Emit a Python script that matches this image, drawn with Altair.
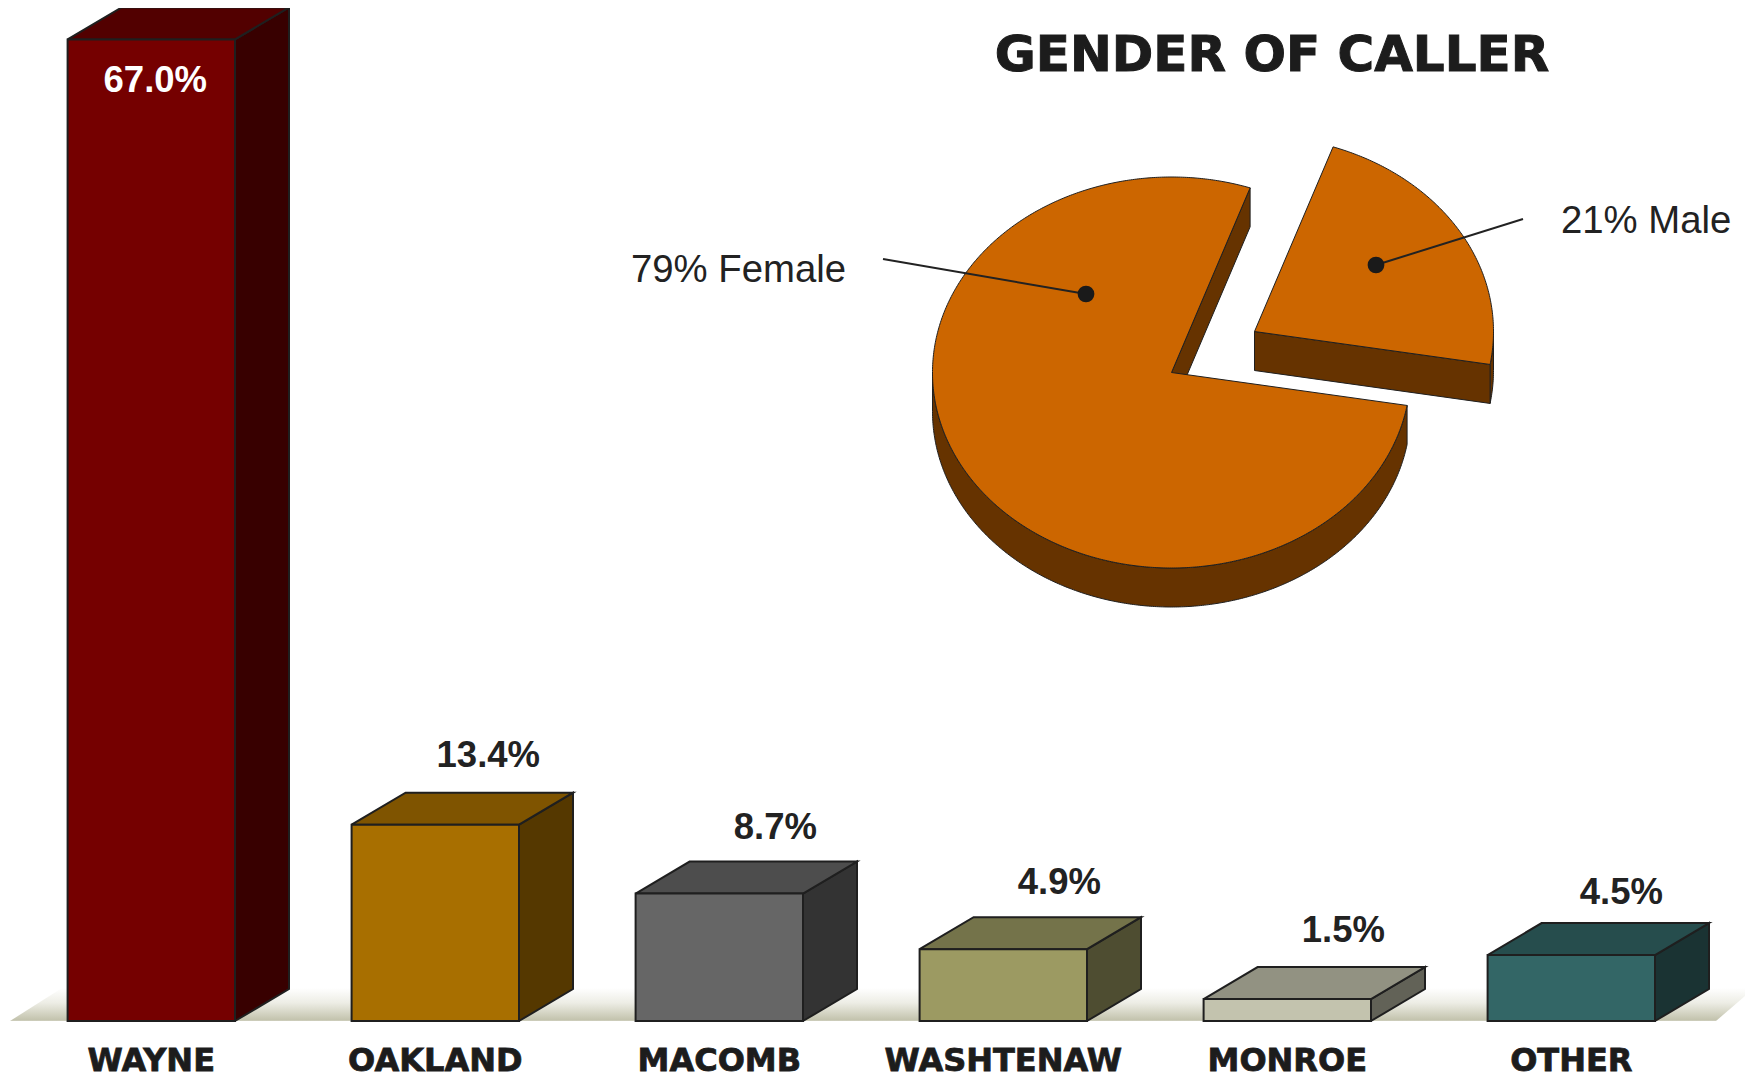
import numpy as np
import pandas as pd
import altair as alt

# ---- data ----
categories = ["WAYNE", "OAKLAND", "MACOMB", "WASHTENAW", "MONROE", "OTHER"]
values = [67.0, 13.4, 8.7, 4.9, 1.5, 4.5]
value_labels = ["67.0%", "13.4%", "8.7%", "4.9%", "1.5%", "4.5%"]
front_colors = ["#750000", "#A86F00", "#666666", "#9C9A62", "#C3C3AE", "#336666"]
top_colors = ["#520000", "#7F5400", "#4D4D4D", "#74734A", "#929282", "#264D4D"]
side_colors = ["#380000", "#553800", "#333333", "#4E4D31", "#626257", "#1A3333"]
pie_labels = ["79% Female", "21% Male"]

# ---- layout ----
W, H = 1737, 1065
PX0, PY0 = 8, 8                    # page margin
SLOT_PX, LEFT_PX, BASE_PX = 284.0, 67.6, 1021.0
PCT_PX = 14.65                     # pixels per percentage point
BAR_W = 167.4 / SLOT_PX
DEPTH_X = 54 / SLOT_PX
DEPTH_Y = 32 / PCT_PX
INK = "#1F1F1F"
LABEL_NUDGE_X = [0, -1, 2, 2, 2, -4]      # value label placement in px
LABEL_NUDGE_Y = [0, 4.5, 2, 2, 4.5, -2]

slot_scale = alt.Scale(domain=[(PX0 - LEFT_PX) / SLOT_PX, (PX0 + W - LEFT_PX) / SLOT_PX], nice=False, zero=False)
pct_scale = alt.Scale(domain=[(BASE_PX - PY0 - H) / PCT_PX, (BASE_PX - PY0) / PCT_PX], nice=False, zero=False)
page_x = alt.Scale(domain=[PX0, PX0 + W], nice=False, zero=False)
page_y = alt.Scale(domain=[PY0 + H, PY0], nice=False, zero=False)


def polygon(points, fill, xs, ys, stroke=INK, width=1.0, join="miter"):
    df = pd.DataFrame(points, columns=["x", "y"])
    df["o"] = range(len(df))
    kw = dict(fill=fill, strokeJoin=join, interpolate="linear", clip=False, point=False)
    if stroke is None:
        kw["strokeOpacity"] = 0
    else:
        kw["stroke"] = stroke
        kw["strokeWidth"] = width
    return alt.Chart(df).mark_line(**kw).encode(
        x=alt.X("x:Q", scale=xs, axis=None),
        y=alt.Y("y:Q", scale=ys, axis=None),
        order=alt.Order("o:Q"),
    )


def text_layer(rows, xs, ys, size, color, bold=False, stroke=0.0, align="center", font="Liberation Sans"):
    df = pd.DataFrame(rows, columns=["x", "y", "t"])
    kw = dict(font=font, fontSize=size, color=color, align=align, baseline="alphabetic")
    if bold:
        kw["fontWeight"] = "bold"
    if stroke:
        kw["stroke"] = color
        kw["strokeWidth"] = stroke
    return alt.Chart(df).mark_text(**kw).encode(
        x=alt.X("x:Q", scale=xs, axis=None),
        y=alt.Y("y:Q", scale=ys, axis=None),
        text="t:N",
    )


layers = []

# floor band
floor_fill = alt.Gradient(
    gradient="linear", x1=0, y1=0, x2=0, y2=1,
    stops=[
        alt.GradientStop(offset=0.0, color="#FFFFFF"),
        alt.GradientStop(offset=0.45, color="#EDEDE5"),
        alt.GradientStop(offset=0.97, color="#C3C3AD"),
        alt.GradientStop(offset=1.0, color="#D5D5C6"),
    ],
)
layers.append(polygon([(10, BASE_PX), (62, 988), (1745, 988), (1745, 996), (1716, BASE_PX)],
                      floor_fill, page_x, page_y, stroke=None))

# bars
for i, v in enumerate(values):
    l, r = i, i + BAR_W
    layers.append(polygon([(r, 0), (r + DEPTH_X, DEPTH_Y), (r + DEPTH_X, v + DEPTH_Y), (r, v), (r, 0)],
                          side_colors[i], slot_scale, pct_scale, width=2.0))
    layers.append(polygon([(l, v), (l + DEPTH_X, v + DEPTH_Y), (r + DEPTH_X, v + DEPTH_Y), (r, v), (l, v)],
                          top_colors[i], slot_scale, pct_scale, width=2.0))

fronts = pd.DataFrame({
    "l": [i for i in range(6)],
    "r": [i + BAR_W for i in range(6)],
    "v": values,
    "z": [0.0] * 6,
    "c": front_colors,
})
layers.append(
    alt.Chart(fronts).mark_rect(stroke=INK, strokeWidth=2.0).encode(
        x=alt.X("l:Q", scale=slot_scale, axis=None),
        x2="r:Q",
        y=alt.Y("z:Q", scale=pct_scale, axis=None),
        y2="v:Q",
        fill=alt.Fill("c:N", scale=None),
    )
)

# value labels
LABEL_DX = 54 / SLOT_PX
LABEL_DY = 21 / PCT_PX
rows = []
for i in range(1, 6):
    rows.append((i + BAR_W / 2 + LABEL_DX + LABEL_NUDGE_X[i] / SLOT_PX,
                 values[i] + DEPTH_Y + LABEL_DY + LABEL_NUDGE_Y[i] / PCT_PX, value_labels[i]))
layers.append(text_layer(rows, slot_scale, pct_scale, 36.5, "#222222", bold=True))
layers.append(text_layer([(BAR_W / 2 + 4 / SLOT_PX, values[0] - 53 / PCT_PX, value_labels[0])],
                         slot_scale, pct_scale, 36.5, "#FFFFFF", bold=True))

# category labels
rows = [(i + BAR_W / 2, (BASE_PX - 1070.5) / PCT_PX, c) for i, c in enumerate(categories)]
layers.append(text_layer(rows, slot_scale, pct_scale, 32, "#1C1C1C", bold=True, stroke=0.8, font="DejaVu Sans"))

# pie
CX, CY, RX, RY, THICK = 1171.5, 372.5, 239.0, 195.5, 39.0
GAP = (83.0, -41.0)
A_TOP, A_RIGHT = 19.2, 99.7       # slice edges as drawn, clockwise from up
PIE_TOP, PIE_SIDE = "#CC6600", "#663300"


def arc(a0, a1, ox=0.0, oy=0.0):
    t = np.radians(np.linspace(a0, a1, max(int(abs(a1 - a0)) * 2, 3)))
    return [(CX + ox + RX * np.sin(a), CY + oy - RY * np.cos(a)) for a in t]


def close(p):
    return p + [p[0]]


centre = (CX, CY)
fem_a0, fem_a1 = A_RIGHT, A_TOP + 360
# female body
low = arc(fem_a0, 270)
layers.append(polygon(close(low + [(x, y + THICK) for x, y in low[::-1]]), PIE_SIDE, page_x, page_y))
edge = arc(fem_a1, fem_a1)[0]
layers.append(polygon(close([edge, (edge[0], edge[1] + THICK), (CX, CY + THICK), centre]), PIE_SIDE, page_x, page_y))
layers.append(polygon(close([centre] + arc(fem_a0, fem_a1)), PIE_TOP, page_x, page_y))
# male body
mc = (CX + GAP[0], CY + GAP[1])
rim = arc(90, A_RIGHT, *GAP)
layers.append(polygon(close(rim + [(x, y + THICK) for x, y in rim[::-1]]), PIE_SIDE, page_x, page_y))
corner = rim[-1]
layers.append(polygon(close([mc, corner, (corner[0], corner[1] + THICK), (mc[0], mc[1] + THICK)]), PIE_SIDE, page_x, page_y))
layers.append(polygon(close([mc] + arc(A_TOP, A_RIGHT, *GAP)), PIE_TOP, page_x, page_y))

# leaders
for pts in ([(883, 259), (1086, 294)], [(1523, 219), (1376, 265)]):
    df = pd.DataFrame(pts, columns=["x", "y"])
    layers.append(alt.Chart(df).mark_line(stroke="#222222", strokeWidth=2).encode(
        x=alt.X("x:Q", scale=page_x, axis=None), y=alt.Y("y:Q", scale=page_y, axis=None)))
    layers.append(alt.Chart(df.iloc[[1]]).mark_point(filled=True, fill="#1A1A1A", size=280, opacity=1, strokeOpacity=0).encode(
        x=alt.X("x:Q", scale=page_x, axis=None), y=alt.Y("y:Q", scale=page_y, axis=None)))

layers.append(text_layer([(631, 282, pie_labels[0])], page_x, page_y, 38.3, "#222222", align="left"))
layers.append(text_layer([(1561, 233, pie_labels[1])], page_x, page_y, 38.3, "#222222", align="left"))
layers.append(text_layer([(1272, 71, "GENDER OF CALLER")], page_x, page_y, 50, "#1C1C1C", bold=True, stroke=1.0, font="DejaVu Sans"))

chart = (
    alt.layer(*layers)
    .resolve_scale(x="independent", y="independent")
    .properties(width=W, height=H, padding=0, autosize=alt.AutoSizeParams(type="none"), background="#FFFFFF")
    .configure_view(stroke=None)
)
chart.save("out.html", embed_options={"renderer": "svg", "actions": False})
